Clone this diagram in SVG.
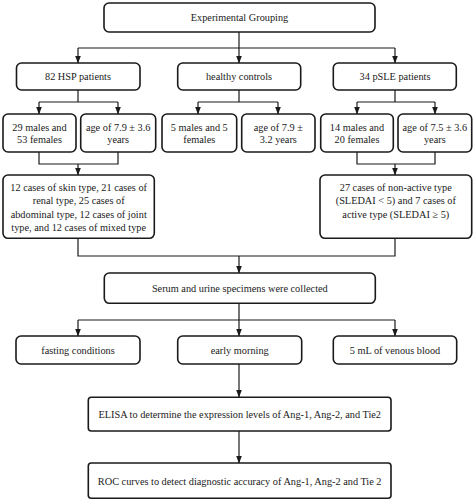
<svg xmlns="http://www.w3.org/2000/svg" width="474" height="501" viewBox="0 0 474 501">
<style>
.box{fill:#fff;stroke:#1a1a1a;stroke-width:1.6}
.ln{fill:none;stroke:#1a1a1a;stroke-width:1.2}
.ar{fill:none;stroke:#1a1a1a;stroke-width:1.2;marker-end:url(#ah)}
text{font-family:"Liberation Serif","Times New Roman",serif;font-size:10.3px;fill:#1a1a1a;text-anchor:middle}
</style>
<defs>
<marker id="ah" markerUnits="userSpaceOnUse" markerWidth="8" markerHeight="8" refX="3" refY="7.5" orient="0" viewBox="0 0 6 8">
<path d="M0,0 L6,0 L3,8 z" fill="#1a1a1a"/>
</marker>
</defs>
<rect width="474" height="501" fill="#fff"/>
<g id="connectors">
<path class="ln" d="M78,48 H395"/>
<path class="ar" d="M239,32 V63"/>
<path class="ar" d="M78,48 V63"/>
<path class="ar" d="M395,48 V63"/>
<path class="ln" d="M78,90 V102 M39,102 H118"/>
<path class="ar" d="M39,102 V114"/>
<path class="ar" d="M118,102 V114"/>
<path class="ln" d="M239,90 V102 M198,102 H278"/>
<path class="ar" d="M198,102 V114"/>
<path class="ar" d="M278,102 V114"/>
<path class="ln" d="M395,90 V102 M357,102 H435"/>
<path class="ar" d="M357,102 V114"/>
<path class="ar" d="M435,102 V114"/>
<path class="ln" d="M39,152 V164 H118 V152"/>
<path class="ar" d="M78,164 V175"/>
<path class="ln" d="M357,152 V164 H435 V152"/>
<path class="ar" d="M395,164 V175"/>
<path class="ln" d="M78,238 V256 H395 V238"/>
<path class="ar" d="M239,256 V273"/>
<path class="ln" d="M239,303 V320 M78,320 H395"/>
<path class="ar" d="M78,320 V336"/>
<path class="ar" d="M239,320 V336"/>
<path class="ar" d="M395,320 V336"/>
<path class="ar" d="M239,364 V397"/>
<path class="ar" d="M239,431 V463"/>
</g>
<g id="n-exp"><rect class="box" x="104" y="3" width="271" height="29" rx="5"/><text x="239.5" y="21">Experimental Grouping</text></g>
<g id="n-hsp"><rect class="box" x="16.5" y="63" width="123.5" height="27" rx="5"/><text x="78" y="80">82 HSP patients</text></g>
<g id="n-hc"><rect class="box" x="177.7" y="63" width="123" height="27" rx="5"/><text x="239" y="80">healthy controls</text></g>
<g id="n-sle"><rect class="box" x="333.3" y="63" width="123" height="27" rx="5"/><text x="395" y="80">34 pSLE patients</text></g>
<g id="n-hsp-sex"><rect class="box" x="3" y="114" width="73" height="38" rx="5"/><text x="39.5" y="130.5">29 males and</text><text x="39.5" y="142.5">53 females</text></g>
<g id="n-hsp-age"><rect class="box" x="80.7" y="114" width="75" height="38" rx="5"/><text x="118.2" y="130.5">age of 7.9 ± 3.6</text><text x="118.2" y="142.5">years</text></g>
<g id="n-hc-sex"><rect class="box" x="162" y="114" width="74.7" height="38" rx="5"/><text x="199.3" y="130.5">5 males and 5</text><text x="199.3" y="142.5">females</text></g>
<g id="n-hc-age"><rect class="box" x="241.7" y="114" width="73.3" height="38" rx="5"/><text x="278.3" y="130.5">age of 7.9 ±</text><text x="278.3" y="142.5">3.2 years</text></g>
<g id="n-sle-sex"><rect class="box" x="320.7" y="114" width="72.6" height="38" rx="5"/><text x="357" y="130.5">14 males and</text><text x="357" y="142.5">20 females</text></g>
<g id="n-sle-age"><rect class="box" x="398" y="114" width="73.7" height="38" rx="5"/><text x="434.8" y="130.5">age of 7.5 ± 3.6</text><text x="434.8" y="142.5">years</text></g>
<g id="n-hsp-type"><rect class="box" x="3" y="175" width="151.3" height="63.3" rx="5"/>
<text x="78.7" y="190.8">12 cases of skin type, 21 cases of</text>
<text x="78.7" y="204.2">renal type, 25 cases of</text>
<text x="78.7" y="217.7">abdominal type, 12 cases of joint</text>
<text x="78.7" y="231.1">type, and 12 cases of mixed type</text></g>
<g id="n-sle-type"><rect class="box" x="320" y="175" width="151.7" height="63.3" rx="5"/>
<text x="395.8" y="190.8">27 cases of non-active type</text>
<text x="395.8" y="204.3">(SLEDAI &lt; 5) and 7 cases of</text>
<text x="395.8" y="217.7">active type (SLEDAI ≥ 5)</text></g>
<g id="n-serum"><rect class="box" x="104.3" y="273" width="271" height="30.3" rx="5"/><text x="239.8" y="291.5">Serum and urine specimens were collected</text></g>
<g id="n-fast"><rect class="box" x="16" y="336" width="124" height="28" rx="5"/><text x="78" y="353.5">fasting conditions</text></g>
<g id="n-morning"><rect class="box" x="177.7" y="336" width="124" height="28" rx="5"/><text x="239.7" y="353.5">early morning</text></g>
<g id="n-blood"><rect class="box" x="333.3" y="336" width="123.4" height="28" rx="5"/><text x="395" y="353.5">5 mL of venous blood</text></g>
<g id="n-elisa"><rect class="box" x="88.3" y="397.3" width="302.7" height="33.7" rx="3"/><text x="239.7" y="418">ELISA to determine the expression levels of Ang-1, Ang-2, and Tie2</text></g>
<g id="n-roc"><rect class="box" x="88.3" y="463" width="302.7" height="35.3" rx="3"/><text x="239.7" y="484.5">ROC curves to detect diagnostic accuracy of Ang-1, Ang-2 and Tie 2</text></g>
</svg>
